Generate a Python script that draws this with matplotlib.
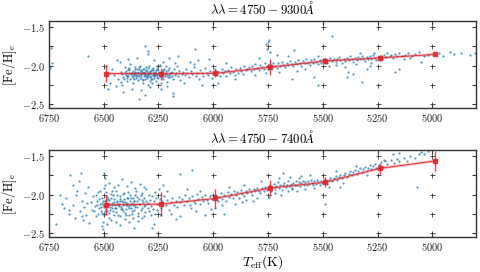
import matplotlib
matplotlib.use("Agg")
import matplotlib.pyplot as plt
from matplotlib.ticker import FuncFormatter, MultipleLocator

plt.rcParams['mathtext.fontset'] = 'cm'
plt.rcParams['font.family'] = ['DejaVu Serif']

# ---- binned mean values (red line) ----
bin_teff = [6490, 6240, 5990, 5740, 5490, 5240, 4990]
top_mean = [-2.103, -2.105, -2.10, -2.02, -1.94, -1.90, -1.855]
top_err = [0.11, 0.08, 0.05, 0.10, 0.04, 0.04, 0.01]
bot_mean = [-2.133, -2.125, -2.05, -1.915, -1.84, -1.66, -1.565]
bot_err = [0.13, 0.16, 0.12, 0.10, 0.065, 0.075, 0.13]

# ---- individual stars, top panel (4750-9300 A) ----
top_pts = [
    (6420, -2.08), (6410, -2.15), (6405, -2.02), (6400, -2.12), (6395, -2.20), (6390, -2.05), (6385, -2.10),
    (6380, -2.17), (6378, -1.98), (6372, -2.13), (6368, -2.07), (6365, -2.23), (6360, -2.11), (6356, -2.02),
    (6352, -2.16), (6348, -2.09), (6345, -2.19), (6340, -2.05), (6337, -2.12), (6333, -2.00), (6330, -2.14),
    (6327, -2.08), (6323, -2.22), (6320, -2.10), (6317, -2.04), (6313, -2.17), (6310, -2.11), (6306, -2.06),
    (6303, -2.13), (6300, -2.09), (6297, -2.25), (6293, -2.01), (6290, -2.15), (6287, -2.10), (6283, -2.07),
    (6280, -2.18), (6276, -2.12), (6273, -2.03), (6270, -2.14), (6266, -2.08), (6263, -2.20), (6260, -2.11),
    (6256, -2.05), (6252, -2.16), (6248, -2.09), (6245, -2.13), (6241, -1.99), (6238, -2.12), (6235, -2.07),
    (6231, -2.18), (6228, -2.10), (6224, -2.04), (6220, -2.14), (6216, -2.09), (6212, -2.21), (6208, -2.06),
    (6204, -2.12), (6200, -2.03), (6196, -2.15), (6192, -2.10), (6188, -2.08), (6184, -2.17), (6180, -2.05),
    (6175, -2.12), (6170, -2.09), (6165, -2.00), (6160, -2.14), (6155, -2.07), (6150, -2.19), (6145, -2.11),
    (6362, -2.12), (6355, -2.08), (6342, -2.14), (6335, -2.10), (6328, -2.06), (6318, -2.13), (6311, -2.08),
    (6304, -2.16), (6298, -2.11), (6291, -2.07), (6284, -2.13), (6277, -2.09), (6269, -2.16), (6262, -2.06),
    (6255, -2.12), (6347, -2.04), (6326, -2.18), (6309, -2.02), (6289, -2.20), (6272, -2.10), (6358, -2.10),
    (6322, -2.09), (6296, -2.13), (6265, -2.12), (6376, -2.09), (6388, -2.14), (6398, -2.07),
    (6415, -2.11), (6402, -2.09), (6392, -2.16), (6383, -2.06), (6374, -2.11), (6366, -2.15), (6359, -2.05),
    (6351, -2.12), (6344, -2.08), (6336, -2.16), (6329, -2.11), (6321, -2.05), (6314, -2.10), (6307, -2.14),
    (6301, -2.07), (6294, -2.11), (6286, -2.17), (6279, -2.05), (6271, -2.12), (6264, -2.09), (6257, -2.15),
    (6250, -2.06), (6243, -2.10), (6236, -2.15), (6229, -2.06), (6222, -2.11), (6214, -2.07), (6206, -2.15),
    (6198, -2.09), (6190, -2.13), (6408, -2.18), (6386, -2.03), (6363, -2.17), (6341, -2.02), (6319, -2.19),
    (6299, -2.03), (6279, -2.22), (6258, -2.01), (6237, -2.22), (6217, -2.01), (6395, -2.13), (6373, -2.09),
    (6353, -2.13), (6332, -2.07), (6312, -2.12), (6292, -2.09), (6274, -2.06), (6253, -2.09), (6233, -2.12),
    (6213, -2.12),
    (6440, -1.93), (6435, -2.18), (6445, -2.27), (6460, -2.05), (6455, -2.12), (6470, -2.22), (6480, -2.30),
    (6425, -1.95), (6415, -2.25), (6390, -1.92), (6370, -2.30), (6350, -1.90), (6330, -2.32), (6300, -1.85),
    (6290, -2.28), (6310, -2.38), (6270, -1.93), (6240, -2.30), (6230, -1.95), (6210, -2.27), (6200, -1.90),
    (6185, -2.35), (6175, -1.96), (6310, -1.74), (6298, -1.81), (6410, -2.34), (6420, -2.21), (6338, -2.43),
    (6182, -2.40),
    (6140, -2.08), (6130, -2.12), (6125, -2.04), (6118, -2.10), (6110, -2.15), (6102, -2.07), (6095, -2.11),
    (6088, -2.02), (6080, -2.13), (6074, -2.09), (6066, -2.18), (6060, -2.06), (6052, -2.10), (6045, -2.14),
    (6038, -2.03), (6030, -2.09), (6022, -2.12), (6015, -2.07), (6008, -2.16), (6000, -2.10), (5992, -2.05),
    (5985, -2.12), (5978, -2.08), (5970, -2.14), (5962, -2.04), (5955, -2.10), (5948, -2.07), (5940, -2.13),
    (5932, -2.06), (5925, -2.10), (5918, -2.02), (5910, -2.08), (5902, -2.12), (5895, -2.05), (5888, -2.09),
    (5880, -2.03), (5872, -2.07), (5865, -2.11), (5858, -2.01), (5850, -2.06), (6105, -1.95), (6070, -1.93),
    (6020, -1.92), (5980, -2.22), (6050, -2.25), (6090, -1.98), (5940, -1.97), (5900, -2.18), (6135, -2.22),
    (6160, -1.88),
    (5845, -2.05), (5838, -2.02), (5830, -2.07), (5822, -2.00), (5815, -2.04), (5808, -1.98), (5800, -2.03),
    (5792, -2.06), (5785, -1.99), (5778, -2.02), (5770, -2.05), (5762, -1.97), (5755, -2.01), (5748, -2.04),
    (5740, -1.98), (5733, -2.02), (5726, -1.96), (5718, -2.00), (5710, -2.03), (5703, -1.97), (5695, -2.01),
    (5688, -1.95), (5680, -1.99), (5672, -2.02), (5665, -1.96), (5658, -1.99), (5650, -1.94), (5642, -1.98),
    (5635, -2.01), (5628, -1.95), (5620, -1.98), (5612, -1.93), (5605, -1.97), (5598, -2.00), (5590, -1.94),
    (5582, -1.97), (5575, -1.92), (5568, -1.96), (5560, -1.99), (5553, -1.93), (5545, -1.96), (5538, -1.91),
    (5530, -1.95), (5522, -1.98), (5515, -1.93), (5508, -1.96), (5500, -1.92), (5810, -2.12), (5760, -2.10),
    (5700, -2.08), (5660, -1.87), (5620, -2.07), (5580, -2.05), (5520, -1.88), (5790, -1.90),
    (5495, -1.95), (5488, -1.92), (5480, -1.96), (5472, -1.93), (5465, -1.90), (5458, -1.94), (5450, -1.91),
    (5442, -1.95), (5435, -1.92), (5428, -1.89), (5420, -1.93), (5412, -1.96), (5405, -1.91), (5398, -1.94),
    (5390, -1.90), (5382, -1.93), (5375, -1.88), (5368, -1.92), (5360, -1.95), (5352, -1.90), (5345, -1.93),
    (5338, -1.89), (5330, -1.92), (5322, -1.87), (5315, -1.91), (5308, -1.94), (5300, -1.89), (5292, -1.92),
    (5285, -1.88), (5278, -1.91), (5270, -1.86), (5262, -1.90), (5255, -1.93), (5470, -2.00), (5440, -1.99),
    (5400, -2.02), (5350, -1.98), (5300, -2.05), (5330, -1.84), (5280, -1.96), (5385, -2.08), (5320, -2.21),
    (5360, -2.11),
    (5245, -1.89), (5235, -1.87), (5228, -1.91), (5220, -1.86), (5212, -1.89), (5205, -1.84), (5195, -1.88),
    (5188, -1.86), (5180, -1.90), (5170, -1.85), (5160, -1.87), (5150, -1.84), (5140, -1.88), (5125, -1.86),
    (5110, -1.83), (5095, -1.87), (5080, -1.85), (5060, -1.82), (5040, -1.88), (5020, -1.86), (4970, -1.84),
    (4950, -1.87), (4920, -1.82), (4900, -1.85), (4870, -1.83), (4830, -1.86), (4805, -1.84), (5100, -1.90),
    (5130, -1.92), (5050, -1.95),
    (6740, -1.77), (6735, -1.96), (6745, -2.03), (6570, -1.87), (6085, -1.78), (5760, -1.72), (5752, -1.69),
    (5745, -1.67), (5755, -1.78), (5740, -1.82), (5710, -1.86), (5630, -1.80), (5460, -1.62), (5265, -1.83),
    (5540, -2.15), (5390, -2.15), (5640, -2.18), (5520, -2.25), (5170, -2.08), (5150, -2.05), (5285, -2.00),
]

# ---- individual stars, bottom panel (4750-7400 A) ----
bot_pts = [
    (6560, -2.10), (6552, -2.20), (6548, -2.02), (6540, -2.15), (6535, -2.28), (6530, -2.08), (6525, -1.97),
    (6520, -2.18), (6515, -2.12), (6510, -2.05), (6506, -2.24), (6502, -2.14), (6498, -1.92), (6494, -2.09),
    (6490, -2.19), (6486, -2.03), (6482, -2.13), (6478, -2.30), (6474, -2.07), (6470, -2.16), (6466, -1.99),
    (6462, -2.11), (6458, -2.22), (6454, -2.06), (6450, -2.14), (6446, -1.95), (6442, -2.18), (6438, -2.09),
    (6434, -2.26), (6430, -2.12), (6426, -2.02), (6422, -2.16), (6418, -2.08), (6414, -2.21), (6410, -2.13),
    (6406, -1.98), (6402, -2.10), (6398, -2.19), (6394, -2.05), (6390, -2.15), (6386, -2.27), (6382, -2.09),
    (6378, -2.01), (6374, -2.17), (6370, -2.11), (6366, -2.04), (6362, -2.20), (6358, -2.13), (6354, -1.96),
    (6350, -2.08), (6346, -2.16), (6342, -2.24), (6338, -2.06), (6334, -2.12), (6330, -2.00), (6326, -2.18),
    (6322, -2.10), (6318, -2.28), (6314, -2.05), (6310, -2.14), (6305, -1.93), (6300, -2.11), (6295, -2.21),
    (6290, -2.07), (6285, -2.15), (6280, -2.02), (6275, -2.19), (6270, -2.09), (6265, -2.25), (6260, -2.04),
    (6512, -2.16), (6504, -2.09), (6496, -2.22), (6488, -2.12), (6480, -2.06), (6472, -2.20), (6464, -2.13),
    (6456, -2.01), (6448, -2.17), (6440, -2.10), (6432, -2.15), (6424, -2.08), (6416, -2.19), (6408, -2.06),
    (6400, -2.14), (6392, -2.11), (6384, -2.18), (6376, -2.04), (6368, -2.14), (6360, -2.08), (6505, -2.35),
    (6495, -1.88), (6485, -2.38), (6475, -1.85), (6465, -2.33), (6455, -1.90), (6445, -2.36), (6435, -1.87),
    (6425, -2.40), (6415, -1.80), (6405, -2.32), (6395, -1.89), (6385, -2.35), (6375, -1.84), (6365, -2.31),
    (6355, -1.91), (6345, -2.34), (6335, -1.86), (6325, -2.30), (6315, -1.90), (6500, -1.72), (6495, -1.78),
    (6505, -2.45), (6510, -2.41), (6360, -2.44), (6270, -2.38), (6280, -2.43),
    (6530, -2.13), (6522, -2.06), (6514, -2.21), (6507, -2.11), (6499, -2.16), (6491, -2.07), (6483, -2.22),
    (6476, -2.12), (6468, -2.05), (6460, -2.17), (6452, -2.10), (6444, -2.23), (6436, -2.13), (6428, -2.06),
    (6420, -2.19), (6412, -2.10), (6404, -2.24), (6396, -2.12), (6388, -2.04), (6380, -2.14), (6372, -2.22),
    (6364, -2.09), (6356, -2.16), (6348, -2.03), (6340, -2.12), (6332, -2.20), (6324, -2.07), (6316, -2.15),
    (6308, -2.09), (6298, -2.17), (6545, -2.22), (6537, -2.01), (6527, -2.25), (6517, -1.95), (6501, -2.27),
    (6489, -1.97), (6477, -2.24), (6463, -1.96), (6451, -2.26), (6439, -2.00), (6427, -2.28), (6413, -1.99),
    (6399, -2.26), (6387, -1.97), (6371, -2.25), (6357, -2.00), (6343, -2.28), (6327, -1.98), (6311, -2.23),
    (6293, -2.01), (6283, -2.27), (6268, -1.97), (6258, -2.20), (6248, -1.93), (6238, -2.26),
    (6720, -2.38), (6700, -2.00), (6680, -2.18), (6670, -2.05), (6660, -2.25), (6655, -1.75), (6640, -2.13),
    (6630, -2.30), (6620, -1.95), (6610, -2.22), (6605, -1.72), (6600, -2.08), (6595, -2.33), (6590, -2.16),
    (6585, -1.98), (6580, -2.26), (6575, -2.11), (6570, -1.90), (6565, -2.37), (6660, -2.20), (6690, -2.12),
    (6625, -2.01), (6615, -1.82), (6600, -2.28), (6640, -1.88),
    (6255, -2.12), (6245, -2.06), (6240, -2.18), (6232, -2.09), (6225, -2.02), (6218, -2.14), (6210, -2.07),
    (6202, -2.20), (6195, -2.10), (6188, -2.04), (6180, -2.13), (6172, -2.08), (6165, -2.16), (6158, -2.03),
    (6150, -2.10), (6142, -2.06), (6135, -2.13), (6128, -2.00), (6120, -2.09), (6112, -2.05), (6105, -2.14),
    (6098, -2.02), (6090, -2.08), (6082, -2.11), (6075, -1.99), (6068, -2.06), (6060, -2.12), (6052, -2.03),
    (6045, -2.09), (6038, -2.00), (6030, -2.07), (6022, -2.11), (6015, -2.02), (6008, -2.06), (6195, -2.25),
    (6150, -2.28), (6100, -2.18), (6060, -1.95), (6120, -1.93), (6230, -1.88), (6170, -2.32), (6080, -2.22),
    (6040, -2.26), (6010, -2.19), (6210, -1.96), (6150, -1.73), (6095, -1.68),
    (5995, -2.05), (5988, -2.00), (5980, -2.09), (5972, -2.03), (5965, -1.98), (5958, -2.06), (5950, -2.01),
    (5942, -2.08), (5935, -1.97), (5928, -2.03), (5920, -1.99), (5912, -2.05), (5905, -1.95), (5898, -2.01),
    (5890, -1.97), (5882, -2.04), (5875, -1.94), (5868, -1.99), (5860, -2.02), (5852, -1.95), (5845, -1.98),
    (5838, -1.93), (5830, -1.97), (5822, -2.00), (5815, -1.93), (5808, -1.96), (5800, -1.91), (5792, -1.95),
    (5785, -1.98), (5778, -1.92), (5770, -1.95), (5762, -1.90), (5755, -1.94), (5960, -2.14), (5900, -2.12),
    (5850, -2.07), (5800, -2.05), (5780, -1.83), (5860, -1.88), (5930, -1.90), (5990, -2.18), (5950, -2.25),
    (5870, -2.10), (5820, -2.08),
    (5748, -1.92), (5742, -1.88), (5736, -1.95), (5730, -1.90), (5724, -1.86), (5718, -1.93), (5712, -1.89),
    (5706, -1.84), (5700, -1.91), (5694, -1.87), (5688, -1.94), (5682, -1.88), (5676, -1.85), (5670, -1.90),
    (5664, -1.87), (5658, -1.83), (5652, -1.89), (5646, -1.86), (5640, -1.91), (5634, -1.85), (5628, -1.88),
    (5622, -1.83), (5616, -1.87), (5610, -1.84), (5604, -1.89), (5598, -1.85), (5592, -1.82), (5586, -1.87),
    (5580, -1.84), (5574, -1.88), (5568, -1.83), (5562, -1.86), (5556, -1.81), (5550, -1.85), (5544, -1.88),
    (5538, -1.83), (5532, -1.86), (5526, -1.81), (5520, -1.84), (5514, -1.87), (5508, -1.82), (5502, -1.85),
    (5720, -1.98), (5690, -2.00), (5660, -1.96), (5620, -1.95), (5580, -1.93), (5540, -1.92), (5700, -1.78),
    (5650, -1.77), (5600, -1.76), (5560, -1.75), (5745, -2.03), (5680, -1.72), (5640, -1.93), (5610, -1.79),
    (5495, -1.84), (5488, -1.80), (5480, -1.86), (5472, -1.81), (5465, -1.78), (5458, -1.83), (5450, -1.79),
    (5442, -1.76), (5435, -1.81), (5428, -1.77), (5420, -1.74), (5412, -1.79), (5405, -1.75), (5398, -1.72),
    (5390, -1.77), (5382, -1.73), (5375, -1.70), (5368, -1.75), (5360, -1.71), (5352, -1.68), (5345, -1.73),
    (5338, -1.69), (5330, -1.66), (5322, -1.71), (5315, -1.67), (5308, -1.64), (5300, -1.69), (5292, -1.65),
    (5285, -1.62), (5278, -1.67), (5270, -1.63), (5262, -1.60), (5255, -1.65), (5470, -1.90), (5440, -1.70),
    (5410, -1.85), (5350, -1.63), (5300, -1.74), (5490, -2.12), (5500, -2.00), (5420, -1.90),
    (5245, -1.62), (5235, -1.58), (5225, -1.64), (5215, -1.57), (5205, -1.60), (5190, -1.55), (5175, -1.59),
    (5160, -1.54), (5150, -1.57), (5130, -1.52), (5115, -1.56), (5100, -1.50), (5080, -1.53), (5060, -1.47),
    (5050, -1.45), (5040, -1.48), (5020, -1.44), (5150, -1.46), (5180, -1.47), (5070, -1.90), (5220, -1.55),
]

titles = [r'$\lambda\lambda = 4750 - 9300\AA$', r'$\lambda\lambda = 4750 - 7400\AA$']
x_ticks = [6750, 6500, 6250, 6000, 5750, 5500, 5250, 5000]
y_ticks = [-1.5, -2.0, -2.5]
grid_x = [6500, 6250, 6000, 5750, 5500, 5250, 5000]
grid_y = [-1.5, -1.75, -2.0, -2.25, -2.5]

fig = plt.figure(figsize=(4.8, 2.72), dpi=100)
ax_top = fig.add_axes([0.102, 0.603, 0.890, 0.320])
ax_bot = fig.add_axes([0.102, 0.129, 0.890, 0.320])

red = '#e3242b'
spine_col = '#333333'

for ax, pts, mean, err, title in [(ax_top, top_pts, top_mean, top_err, titles[0]),
                                  (ax_bot, bot_pts, bot_mean, bot_err, titles[1])]:
    gx = [x for x in grid_x for _ in grid_y]
    gy = [y for _ in grid_x for y in grid_y]
    ax.plot(gx, gy, '+', color='#333333', ms=3.6, mew=0.6, zorder=1, clip_on=False)
    ax.scatter([p[0] for p in pts], [p[1] for p in pts], s=2.6, color='#1f77b4',
               alpha=0.75, linewidths=0, zorder=2)
    ax.plot(bin_teff, mean, '-', color=red, lw=2.2, alpha=0.25, zorder=3)
    ax.errorbar(bin_teff, mean, yerr=err, fmt='s-', color=red, ms=2.8, lw=0.8,
                elinewidth=1.0, ecolor=red, alpha=0.85, zorder=4)
    ax.set_xlim(6750, 4800)
    ax.set_ylim(-2.55, -1.42)
    ax.set_xticks(x_ticks)
    ax.set_yticks(y_ticks)
    ax.yaxis.set_minor_locator(MultipleLocator(0.25))
    ax.xaxis.set_major_formatter(FuncFormatter(lambda v, p: r'$%d$' % v))
    ax.yaxis.set_major_formatter(FuncFormatter(lambda v, p: r'$%.1f$' % v))
    ax.tick_params(which='both', direction='in', top=True, right=True, length=3,
                   width=0.8, color=spine_col, labelsize=7.5, labelcolor='#222222', pad=3)
    ax.tick_params(axis='x', which='minor', bottom=False, top=False)
    for s in ax.spines.values():
        s.set_color(spine_col)
        s.set_linewidth(1.0)
    ax.set_ylabel(r'$[\mathrm{Fe/H}]_\mathrm{e}$', fontsize=9, labelpad=2)
    ax.set_title(title, fontsize=9.3, pad=5)

ax_bot.set_xlabel(r'$T_\mathrm{eff}(\mathrm{K})$', fontsize=10, labelpad=0)

fig.savefig('out.png', dpi=100)
